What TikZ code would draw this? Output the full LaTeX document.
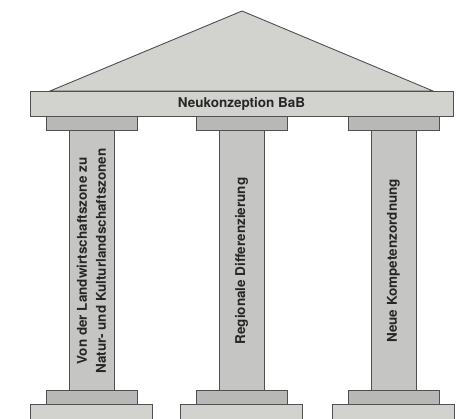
\documentclass[tikz,border=0pt]{standalone}
\usepackage{fontspec}
\setsansfont{TeX Gyre Heros}
\definecolor{stone}{RGB}{210,210,207}
\definecolor{stonemid}{RGB}{197,197,195}
\definecolor{stonedark}{RGB}{184,184,182}
\definecolor{edge}{RGB}{80,80,80}
\tikzset{block/.style={draw=edge, line width=0.9pt, fill=stone},
	label/.style={font=\sffamily\bfseries\fontsize{13.5}{19}\selectfont, text=black!85, align=center}}

\begin{document}
\begin{tikzpicture}[x=1pt,y=1pt]
	\useasboundingbox (0,0) rectangle (465,419);
	\clip (0,0) rectangle (465,419);
	\draw [block] (50,328) -- (242,408) -- (433,328) -- cycle;
	\draw [block] (30,303) rectangle (453,328);
	\node [label] (konzept) at (241.5,315.5) {Neukonzeption BaB};
	\foreach \x/\name/\txt in {91.5/landschaft/{Von der Landwirtschaftszone zu\\Natur- und Kulturlandschaftszonen},
		241.5/region/{Regionale Differenzierung}, 393.5/kompetenz/{Neue Kompetenzordnung}}
	{
		\draw [block, fill=stonedark] (\x-45.5,289) rectangle (\x+45.5,303);
		\draw [block, fill=stonemid] (\x-22.5,29) rectangle (\x+22.5,289);
		\draw [block, fill=stonedark] (\x-45.5,15) rectangle (\x+45.5,29);
		\draw [block] (\x-61,-5) rectangle (\x+61,15);
		\node [label, rotate=90] (\name) at (\x,158) {\txt};
	}
\end{tikzpicture}
\end{document}
